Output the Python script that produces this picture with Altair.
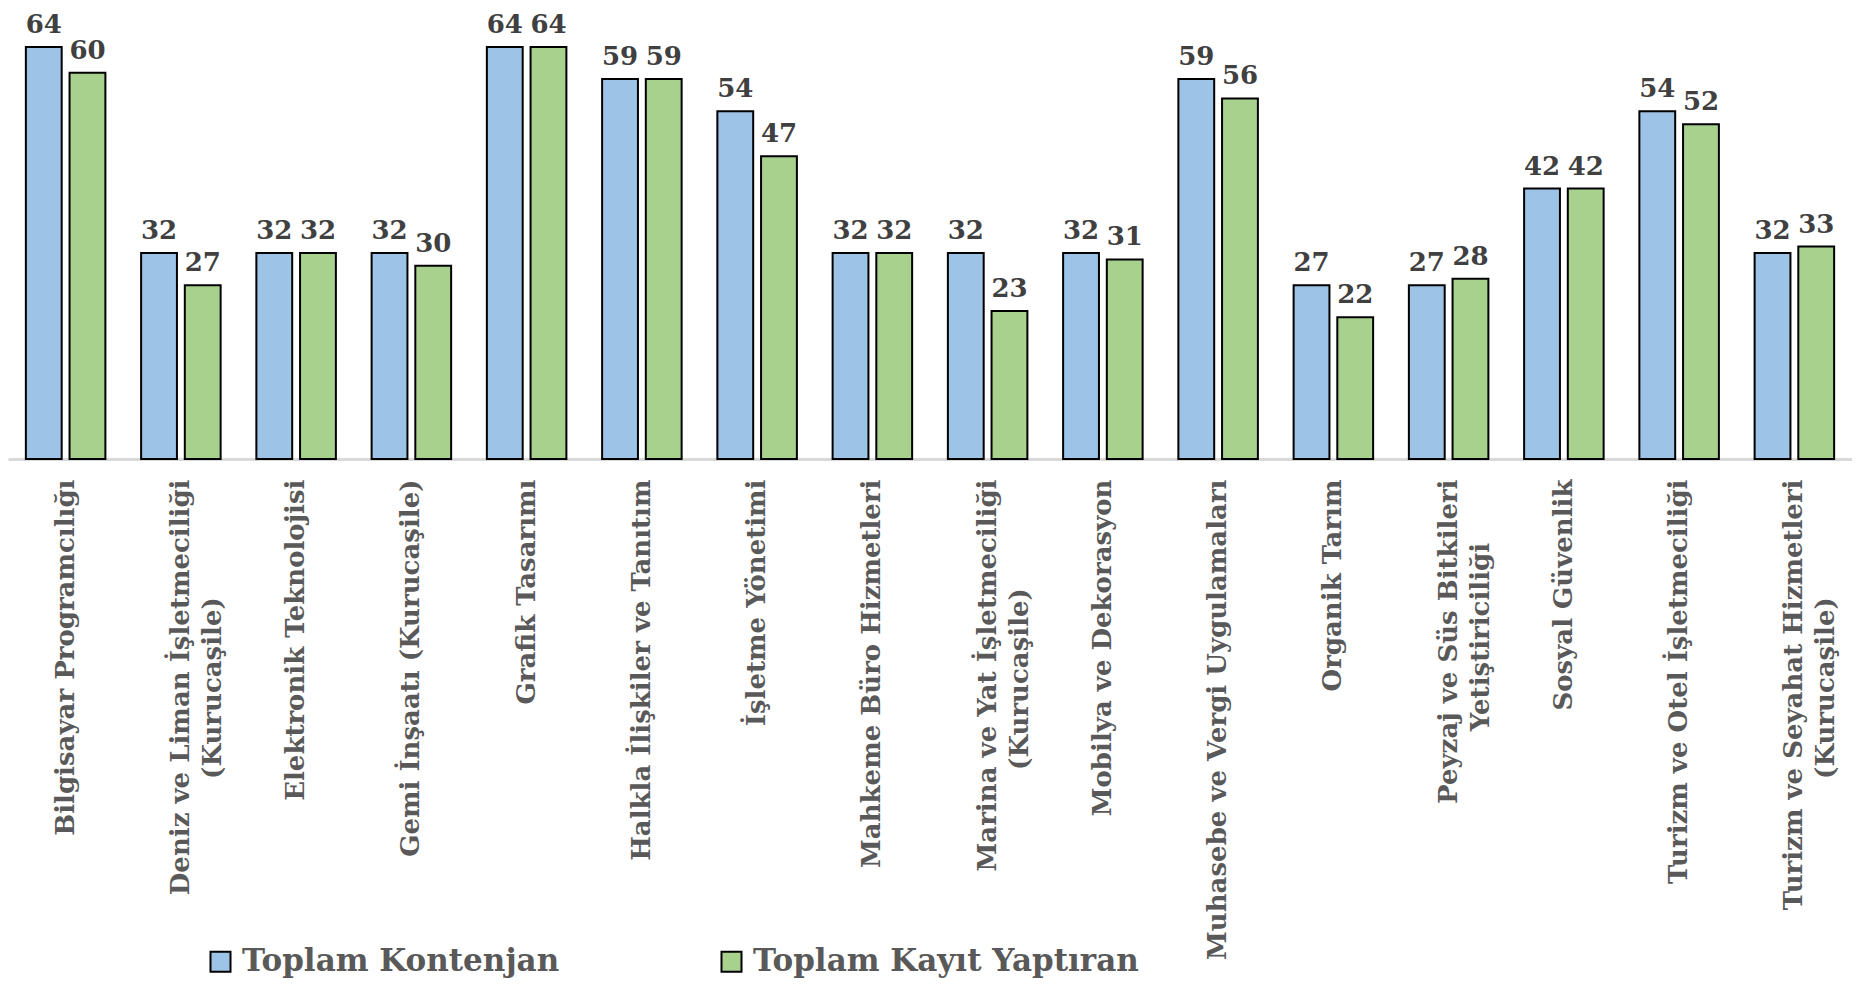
import altair as alt
import pandas as pd

categories = [
    "Bilgisayar Programcılığı",
    "Deniz ve Liman İşletmeciliği\n(Kurucaşile)",
    "Elektronik Teknolojisi",
    "Gemi İnşaatı (Kurucaşile)",
    "Grafik Tasarımı",
    "Halkla İlişkiler ve Tanıtım",
    "İşletme Yönetimi",
    "Mahkeme Büro Hizmetleri",
    "Marina ve Yat İşletmeciliği\n(Kurucaşile)",
    "Mobilya ve Dekorasyon",
    "Muhasebe ve Vergi Uygulamaları",
    "Organik Tarım",
    "Peyzaj ve Süs Bitkileri\nYetiştiriciliği",
    "Sosyal Güvenlik",
    "Turizm ve Otel İşletmeciliği",
    "Turizm ve Seyahat Hizmetleri\n(Kurucaşile)",
]
kontenjan = [64, 32, 32, 32, 64, 59, 54, 32, 32, 32, 59, 27, 27, 42, 54, 32]
kayit = [60, 27, 32, 30, 64, 59, 47, 32, 23, 31, 56, 22, 28, 42, 52, 33]
series = ["Toplam Kontenjan", "Toplam Kayıt Yaptıran"]
colors = ["#9DC3E6", "#A9D18E"]

NBSP = "\u00a0"
ZWSP = "\u200b"


def centred_label(name):
    # second line padded with trailing no-break spaces so it sits centred
    lines = name.split("\n")
    if len(lines) == 1:
        return name
    first, second = lines
    pad = max(0, round((len(first) - len(second)) * 0.83))
    return first + "\n" + second + NBSP * pad + ZWSP


labels = [centred_label(c) for c in categories]

rows = []
for lab, a, b in zip(labels, kontenjan, kayit):
    rows.append({"cat": lab, "series": series[0], "value": a})
    rows.append({"cat": lab, "series": series[1], "value": b})
df = pd.DataFrame(rows)

FONT = "DejaVu Serif"

x_axis = alt.Axis(
    title=None,
    labelAngle=-90,
    labelAlign="right",
    labelBaseline="middle",
    labelFont=FONT,
    labelFontSize=26,
    labelFontWeight="bold",
    labelColor="#595959",
    labelPadding=20,
    labelLimit=0,
    labelLineHeight=32,
    labelExpr="split(datum.label, '\\n')",
    ticks=False,
    domainColor="#D9D9D9",
    domainWidth=3,
    grid=False,
)
x_enc = alt.X("cat:N", sort=labels, scale=alt.Scale(paddingInner=0.31, paddingOuter=0.155), axis=x_axis)
xoff = alt.XOffset("series:N", sort=series, scale=alt.Scale(paddingInner=0.18, paddingOuter=0))
y_enc = alt.Y("value:Q", scale=alt.Scale(domain=[0, 68.8], nice=False), axis=None)

base = alt.Chart(df)

bars = base.mark_bar(stroke="black", strokeWidth=2).encode(
    x=x_enc,
    xOffset=xoff,
    y=y_enc,
    color=alt.Color(
        "series:N",
        sort=series,
        scale=alt.Scale(domain=series, range=colors),
        legend=alt.Legend(
            title=None,
            orient="none",
            legendX=197,
            legendY=930,
            direction="horizontal",
            columns=2,
            columnPadding=156,
            symbolType="square",
            symbolSize=400,
            symbolStrokeColor="black",
            symbolStrokeWidth=2,
            symbolOpacity=1,
            labelFont=FONT,
            labelFontSize=31,
            labelFontWeight="bold",
            labelColor="#595959",
            labelLimit=0,
            labelOffset=6,
            padding=0,
        ),
    ),
)

text = base.mark_text(
    baseline="alphabetic",
    dy=-14,
    font=FONT,
    fontSize=26,
    fontWeight="bold",
    color="#404040",
).encode(x=x_enc, xOffset=xoff, y=y_enc, text=alt.Text("value:Q"))

chart = (
    alt.layer(bars, text)
    .properties(
        width=1844,
        height=443,
        autosize=alt.AutoSizeParams(type="none"),
        padding={"left": 0, "top": 8, "right": 0, "bottom": 525},
        view=alt.ViewBackground(stroke="transparent", strokeWidth=0),
    )
    .configure_view(stroke="transparent", strokeWidth=0)
    .configure_axis(grid=False)
    .configure(background="white")
)

chart.save("out.html", embed_options={"renderer": "svg", "actions": False})
